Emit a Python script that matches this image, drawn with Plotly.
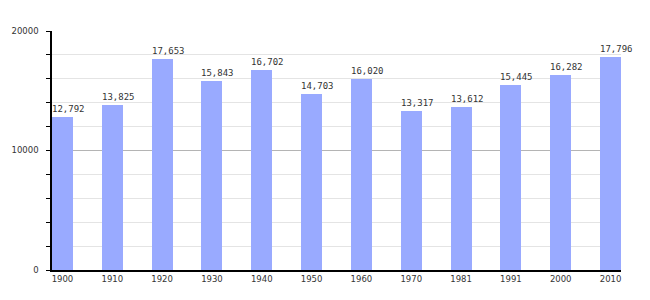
import plotly.graph_objects as go

years = ["1900", "1910", "1920", "1930", "1940", "1950", "1960", "1970", "1981", "1991", "2000", "2010"]
population = [12792, 13825, 17653, 15843, 16702, 14703, 16020, 13317, 13612, 15445, 16282, 17796]
y_ticks = [0, 10000, 20000]

xpos = list(range(len(years)))

fig = go.Figure(go.Bar(
    x=xpos, y=population, width=0.42,
    marker=dict(color="#99aaff", line=dict(width=0)),
    hoverinfo="x+y",
))

for i, v in zip(xpos, population):
    fig.add_annotation(
        x=i, y=v, text=f"{v:,}", showarrow=False,
        xanchor="center", yanchor="bottom", xshift=6, yshift=2, borderpad=0,
        font=dict(family="DejaVu Sans Mono", size=9, color="#333"),
    )

fig.update_layout(
    width=650, height=300,
    margin=dict(l=50, r=29, t=31, b=30),
    plot_bgcolor="white", paper_bgcolor="white",
    showlegend=False, bargap=0,
    xaxis=dict(
        range=[-0.21, 11.21], tickvals=xpos, ticktext=years,
        showgrid=False, zeroline=False, showline=True, linecolor="black", linewidth=1.5,
        ticks="", tickfont=dict(family="DejaVu Sans", size=8.5, color="#333"),
    ),
    yaxis=dict(
        range=[0, 20000], tickvals=y_ticks, ticktext=[str(v) for v in y_ticks],
        showgrid=True, gridcolor="#b4b4b4", gridwidth=1,
        zeroline=False, showline=True, linecolor="black", linewidth=1.5,
        ticks="outside", ticklen=4, tickcolor="black",
        ticklabelstandoff=6,
        tickfont=dict(family="DejaVu Sans", size=8.5, color="#333"),
        minor=dict(dtick=2000, showgrid=True, gridcolor="#e4e4e4", ticks="outside", ticklen=4, tickcolor="black"),
    ),
)

fig.write_html("out.html")
